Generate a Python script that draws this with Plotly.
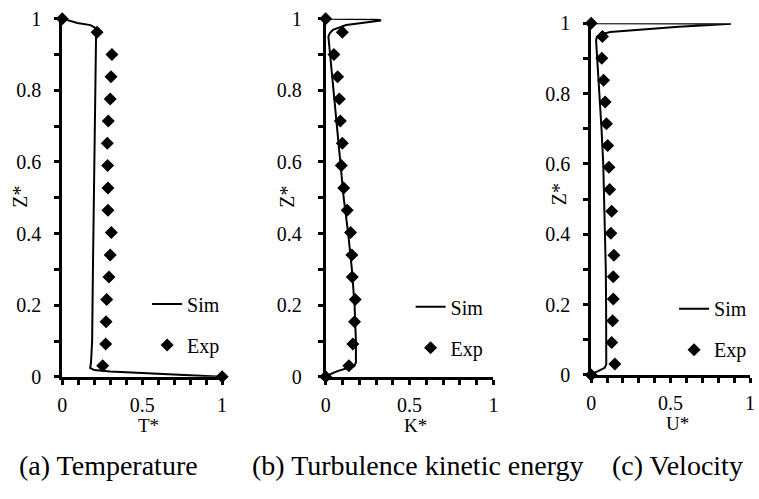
import plotly.graph_objects as go

# ---------------- data ----------------
# Experimental points (shared z positions)
exp_z = [1.0, 0.962, 0.90, 0.838, 0.776, 0.714, 0.652, 0.59, 0.527, 0.465,
         0.403, 0.34, 0.279, 0.216, 0.154, 0.092, 0.031, 0.0]
exp_T = [0.0, 0.218, 0.311, 0.305, 0.300, 0.288, 0.282, 0.284, 0.286, 0.286,
         0.307, 0.300, 0.292, 0.278, 0.274, 0.272, 0.253, 1.0]
exp_K = [0.0, 0.099, 0.049, 0.071, 0.081, 0.087, 0.099, 0.093, 0.107, 0.128,
         0.148, 0.156, 0.158, 0.176, 0.172, 0.162, 0.138, 0.0]
exp_U = [0.0, 0.071, 0.067, 0.078, 0.088, 0.096, 0.104, 0.112, 0.116, 0.129,
         0.124, 0.143, 0.139, 0.139, 0.135, 0.129, 0.149, 0.0]

# Simulation profiles
sim_T_z = [0.0, 0.005, 0.01, 0.015, 0.019, 0.025, 0.04, 0.1, 0.3, 0.5, 0.7, 0.9,
           0.955, 0.965, 0.975, 0.982, 0.988, 0.997, 1.0]
sim_T = [1.0, 0.75, 0.5, 0.3, 0.2, 0.175, 0.18, 0.187, 0.192, 0.198, 0.204, 0.21,
         0.214, 0.212, 0.205, 0.177, 0.095, 0.01, 0.0]

sim_K_z = [0.0, 0.008, 0.016, 0.024, 0.03, 0.04, 0.1, 0.2, 0.3, 0.4, 0.5, 0.6,
           0.7, 0.8, 0.9, 0.95, 0.96, 0.969, 0.982, 0.989, 0.995, 0.998, 0.9995, 1.0]
sim_K = [0.0, 0.03, 0.07, 0.13, 0.17, 0.18, 0.18, 0.172, 0.156, 0.134, 0.107, 0.087,
         0.067, 0.047, 0.028, 0.016, 0.025, 0.043, 0.122, 0.24, 0.33, 0.30, 0.16, 0.0]

sim_U_z = [0.0, 0.005, 0.01, 0.015, 0.02, 0.03, 0.1, 0.2, 0.3, 0.4, 0.5, 0.6, 0.7,
           0.8, 0.9, 0.95, 0.96, 0.968, 0.975, 0.982, 0.99, 0.995, 0.998, 0.999, 1.0]
sim_U = [0.0, 0.015, 0.04, 0.065, 0.085, 0.095, 0.096, 0.094, 0.092, 0.088, 0.082,
         0.076, 0.065, 0.053, 0.039, 0.031, 0.035, 0.06, 0.12, 0.3, 0.55, 0.75,
         0.88, 0.6, 0.0]

x_ticks = [0, 0.1, 0.2, 0.3, 0.4, 0.5, 0.6, 0.7, 0.8, 0.9, 1.0]
x_ticktext = ["0", "", "", "", "", "0.5", "", "", "", "", "1"]
y_ticks = [0, 0.1, 0.2, 0.3, 0.4, 0.5, 0.6, 0.7, 0.8, 0.9, 1.0]
y_ticktext = ["0", "", "0.2", "", "0.4", "", "0.6", "", "0.8", "", "1"]

x_titles = ["T*", "K*", "U*"]
y_title = "Z*"
captions = ["(a) Temperature", "(b) Turbulence kinetic energy", "(c) Velocity"]
series_names = ["Sim", "Exp"]

# ---------------- layout helpers ----------------
W, H = 759, 499
FONT = '"Liberation Serif", "Times New Roman", Times, serif'

def px_x(p):
    return p / W

def px_y(p):
    return 1 - p / H

# pixel geometry of panels: (x0, x1, ytop, ybottom)
panels = [(58, 220, 8, 382.7), (325, 495, 8, 382.7), (594, 755, 12.7, 380.7)]
ystandoff = [9, 12, 9]

fig = go.Figure()

sims = [(sim_T, sim_T_z), (sim_K, sim_K_z), (sim_U, sim_U_z)]
exps = [exp_T, exp_K, exp_U]

for i in range(3):
    sfx = "" if i == 0 else str(i + 1)
    leg = "legend" if i == 0 else "legend" + str(i + 1)
    fig.add_trace(go.Scatter(x=sims[i][0], y=sims[i][1], mode="lines",
                             line=dict(color="black", width=2),
                             name=series_names[0], xaxis="x" + sfx, yaxis="y" + sfx,
                             legend=leg, legendgroup="sim", cliponaxis=False))
    fig.add_trace(go.Scatter(x=exps[i], y=exp_z, mode="markers",
                             marker=dict(symbol="diamond", size=10, color="black"),
                             name=series_names[1], xaxis="x" + sfx, yaxis="y" + sfx,
                             legend=leg, legendgroup="exp", cliponaxis=False))

layout = dict(width=W, height=H, margin=dict(l=0, r=0, t=0, b=0),
              paper_bgcolor="white", plot_bgcolor="white",
              font=dict(family=FONT, size=20, color="black"))

for i, (x0, x1, yt, yb) in enumerate(panels):
    sfx = "" if i == 0 else str(i + 1)
    layout["xaxis" + sfx] = dict(
        domain=[px_x(x0), px_x(x1)], range=[0, 1], anchor="y" + sfx,
        showline=True, linecolor="black", linewidth=3, showgrid=False, zeroline=False,
        ticks="outside", ticklen=5, tickwidth=3, tickcolor="black",
        tickvals=x_ticks, ticktext=x_ticktext, ticklabelstandoff=3,
        tickfont=dict(family=FONT, size=20, color="black"))
    layout["yaxis" + sfx] = dict(
        domain=[px_y(yb), px_y(yt)], range=[0, 1], anchor="x" + sfx,
        showline=True, linecolor="black", linewidth=3, showgrid=False, zeroline=False,
        ticks="outside", ticklen=5, tickwidth=3, tickcolor="black",
        tickvals=y_ticks, ticktext=y_ticktext, ticklabelstandoff=ystandoff[i],
        tickfont=dict(family=FONT, size=20, color="black"))

legend_pos = [(144, 286), (411, 289), (678, 291)]
for i, (lx, ly) in enumerate(legend_pos):
    key = "legend" if i == 0 else "legend" + str(i + 1)
    layout[key] = dict(x=px_x(lx), y=px_y(ly), xanchor="left", yanchor="top",
                       xref="paper", yref="paper", bgcolor="rgba(0,0,0,0)",
                       font=dict(family=FONT, size=20, color="black"),
                       traceorder="grouped", tracegroupgap=12, itemwidth=30)

fig.update_layout(**layout)

# axis titles and captions
xt_pos = [(145, 434), (416, 434), (681, 432)]
zt_pos = [(15.5, 194), (286, 194), (561, 192)]
cap_pos = [(105, 475), (419, 475), (681, 475)]
for i in range(3):
    fig.add_annotation(text=x_titles[i], x=px_x(xt_pos[i][0]), y=px_y(xt_pos[i][1]),
                       xref="paper", yref="paper", showarrow=False,
                       xanchor="center", yanchor="middle",
                       font=dict(family=FONT, size=19, color="black"))
    fig.add_annotation(text=y_title, x=px_x(zt_pos[i][0]), y=px_y(zt_pos[i][1]),
                       xref="paper", yref="paper", showarrow=False, textangle=-90,
                       xanchor="center", yanchor="middle",
                       font=dict(family=FONT, size=20, color="black"))
    fig.add_annotation(text=captions[i], x=px_x(cap_pos[i][0]), y=px_y(cap_pos[i][1]),
                       xref="paper", yref="paper", showarrow=False,
                       xanchor="center", yanchor="middle",
                       font=dict(family=FONT, size=28, color="black"))

fig.write_html("out.html")
